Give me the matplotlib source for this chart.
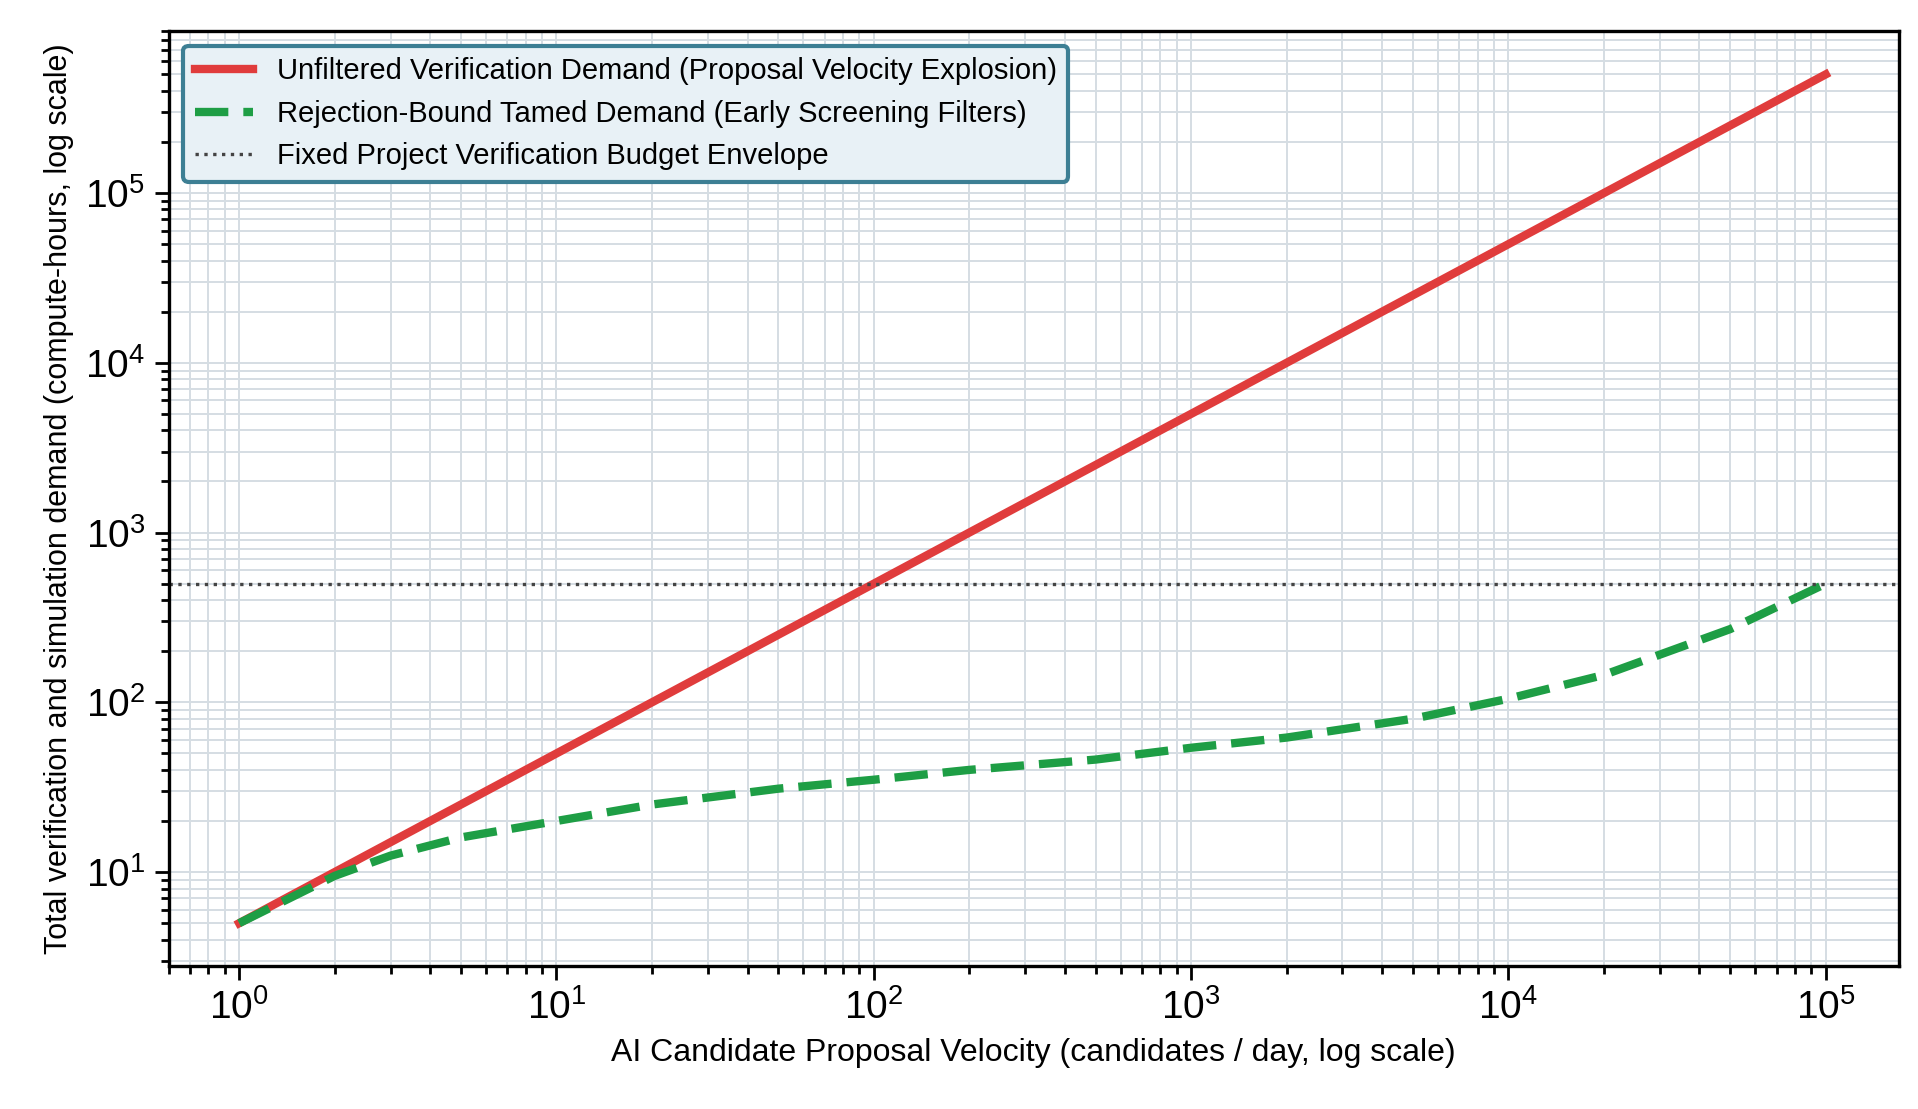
import matplotlib
matplotlib.use('Agg')
from matplotlib import pyplot as plt

plt.rcParams['font.family'] = ['Liberation Sans', 'DejaVu Sans']

# values
velocity = [1, 2, 3, 5, 10, 20, 50, 100, 200, 500, 1000, 2000, 5000, 10000, 20000, 50000, 100000]
unfiltered = [5, 10, 15, 25, 50, 100, 250, 500, 1000, 2500, 5000, 10000, 25000, 50000, 100000, 250000, 500000]
tamed = [5, 9.5, 12.5, 16, 20, 25, 31, 35, 40, 46, 54, 62, 80, 105, 145, 270, 500]
budget = 500

fig, ax = plt.subplots(figsize=(9.59, 5.545), dpi=200)
ax.plot(velocity, unfiltered, color='#e03c3c', lw=3,
        label='Unfiltered Verification Demand (Proposal Velocity Explosion)')
ax.plot(velocity, tamed, color='#1e9e45', lw=3, ls=(0, (4, 1.8)),
        label='Rejection-Bound Tamed Demand (Early Screening Filters)')
ax.axhline(budget, color='#444444', lw=1.2, ls=':',
           label='Fixed Project Verification Budget Envelope')

ax.set_xscale('log')
ax.set_yscale('log')
ax.set_xlim(0.6, 1.7e5)
ax.set_ylim(2.8, 9e5)
ax.grid(True, which='both', color='#d5dde3', lw=0.7)
ax.set_axisbelow(True)
for s in ax.spines.values():
    s.set_linewidth(1.2)
ax.tick_params(axis='both', which='major', labelsize=14, length=5, width=1)
ax.tick_params(axis='both', which='minor', length=3, width=1)
ax.set_xlabel('AI Candidate Proposal Velocity (candidates / day, log scale)', fontsize=11.5)
ax.set_ylabel('Total verification and simulation demand (compute-hours, log scale)', fontsize=11)
leg = ax.legend(loc='upper left', fontsize=10.5, fancybox=True, framealpha=1)
leg.get_frame().set_facecolor('#e8f1f6')
leg.get_frame().set_edgecolor('#3d7f94')
leg.get_frame().set_linewidth(1.5)

fig.subplots_adjust(left=0.088, right=0.99, top=0.972, bottom=0.129)
fig.savefig('out.png', dpi=200)
